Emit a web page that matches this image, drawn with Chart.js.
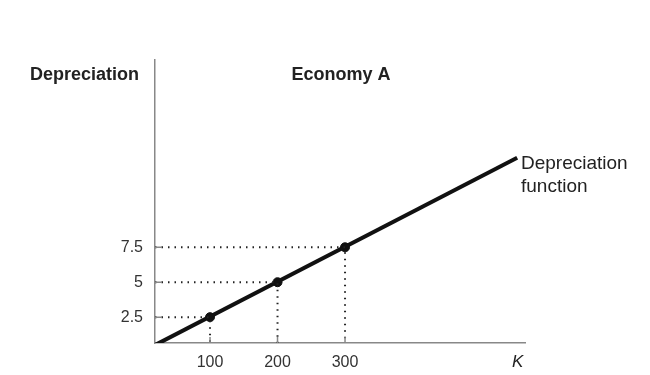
<!DOCTYPE html>
<html>
<head>
<meta charset="utf-8">
<script src="https://cdn.jsdelivr.net/npm/chart.js@4.4.1/dist/chart.umd.min.js"></script>
<style>
  html, body { margin: 0; padding: 0; background: #fff; }
  #wrap { width: 650px; height: 375px; position: relative; }
</style>
</head>
<body>
<div id="wrap"><canvas id="chart"></canvas></div>
<script>
// ---- data ----
const capital = [100, 200, 300];        // K values of the marked points
const depreciation = [2.5, 5, 7.5];     // depreciation at those points
const lineK = [18.5, 555];              // ends of the depreciation function
const lineD = [0.5, 13.9];
const xTicks = [100, 200, 300];
const yTicks = [2.5, 5, 7.5];
const axisMin = { x: 18.5, y: 0.65 };
const axisMax = { x: 566.6, y: 20.9 };

const FONT = '"Liberation Sans", Arial, sans-serif';

// dotted guide lines from each point back to the axes
const guides = capital.map((k, i) => ({
    data: [
        { x: axisMin.x, y: depreciation[i] },
        { x: k, y: depreciation[i] },
        { x: k, y: axisMin.y }
    ],
    borderColor: '#222',
    borderWidth: 2,
    borderDash: [1.5, 5],
    pointRadius: 0,
    fill: false,
    tension: 0
}));

const labelsPlugin = {
    id: 'labels',
    afterDraw(chart) {
        const ctx = chart.ctx;
        const xs = chart.scales.x, ys = chart.scales.y;
        ctx.save();
        // short inward tick marks
        ctx.strokeStyle = '#888';
        ctx.lineWidth = 1.5;
        ctx.beginPath();
        xTicks.forEach(v => {
            const px = xs.getPixelForValue(v);
            ctx.moveTo(px, ys.bottom);
            ctx.lineTo(px, ys.bottom - 6);
        });
        yTicks.forEach(v => {
            const py = ys.getPixelForValue(v);
            ctx.moveTo(xs.left, py);
            ctx.lineTo(xs.left + 7, py);
        });
        ctx.stroke();

        ctx.fillStyle = '#222';
        ctx.textBaseline = 'middle';
        ctx.font = 'bold 18px ' + FONT;
        ctx.textAlign = 'left';
        ctx.fillText('Depreciation', 30, 75);
        ctx.textAlign = 'center';
        ctx.fillText('Economy A', 341, 75);
        ctx.font = '19px ' + FONT;
        ctx.textAlign = 'left';
        ctx.fillText('Depreciation', 521, 164);
        ctx.fillText('function', 521, 187);
        ctx.font = 'italic 17px ' + FONT;
        ctx.fillText('K', 512, 362);
        ctx.restore();
    }
};

new Chart(document.getElementById('chart'), {
    type: 'scatter',
    data: {
        datasets: [
            ...guides,
            {
                data: lineK.map((k, i) => ({ x: k, y: lineD[i] })),
                showLine: true,
                borderColor: '#111',
                borderWidth: 4,
                pointRadius: 0,
                tension: 0
            },
            {
                data: capital.map((k, i) => ({ x: k, y: depreciation[i] })),
                pointRadius: 4.5,
                pointBackgroundColor: '#111',
                pointBorderColor: '#111',
                showLine: false
            }
        ]
    },
    options: {
        responsive: true,
        maintainAspectRatio: false,
        animation: false,
        layout: { padding: { top: 60, right: 125, left: 0, bottom: 0 } },
        plugins: { legend: { display: false }, tooltip: { enabled: false } },
        datasets: { scatter: { showLine: true } },
        scales: {
            x: {
                type: 'linear',
                min: axisMin.x,
                max: axisMax.x,
                afterBuildTicks: (s) => { s.ticks = xTicks.map(v => ({ value: v })); },
                afterFit: (s) => { s.height = 32; },
                grid: { display: false },
                border: { display: true, color: '#888', width: 1.5 },
                ticks: {
                    color: '#333',
                    padding: 2,
                    maxRotation: 0,
                    font: { family: FONT, size: 16 }
                }
            },
            y: {
                type: 'linear',
                min: axisMin.y,
                max: axisMax.y,
                afterBuildTicks: (s) => { s.ticks = yTicks.map(v => ({ value: v })); },
                afterFit: (s) => { s.width = 155; },
                grid: { display: false },
                border: { display: true, color: '#888', width: 1.5 },
                ticks: {
                    color: '#333',
                    padding: 4,
                    font: { family: FONT, size: 16 }
                }
            }
        }
    },
    plugins: [labelsPlugin]
});
</script>
</body>
</html>
